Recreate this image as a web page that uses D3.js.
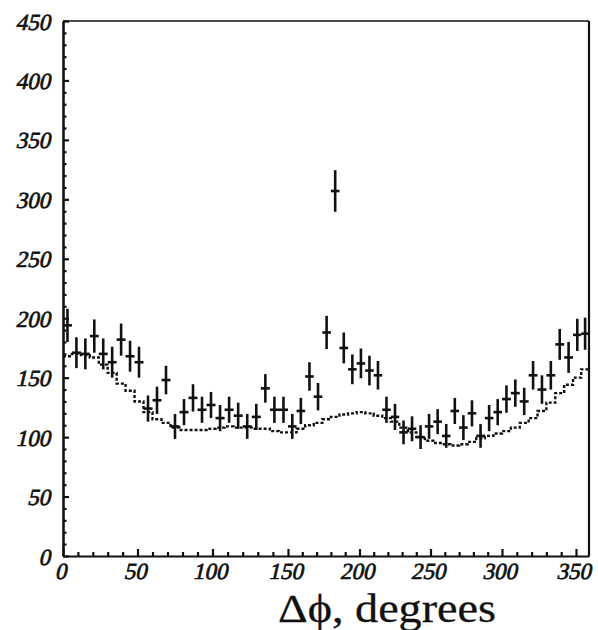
<!DOCTYPE html>
<html>
<head>
<meta charset="utf-8">
<script src="https://cdn.jsdelivr.net/npm/d3@7"></script>
<style>
  body { margin: 0; background: #fff; }
  svg text { font-family: "Liberation Serif", "Times New Roman", serif; fill: #111; }
</style>
</head>
<body>
<div id="chart"></div>
<script>
// bin centres, degrees (6 degree bins)
const phiBins = [3, 9, 15, 21, 27, 33, 39, 45, 51, 57,
  63, 69, 75, 81, 87, 93, 99, 105, 111, 117,
  123, 129, 135, 141, 147, 153, 159, 165, 171, 177,
  183, 189, 195, 201, 207, 213, 219, 225, 231, 237,
  243, 249, 255, 261, 267, 273, 279, 285, 291, 297,
  303, 309, 315, 321, 327, 333, 339, 345, 351, 357];

// measured counts per bin
const counts = [194, 171, 170, 185, 170, 163, 182, 168, 163, 124,
  131, 148, 109, 121, 133, 123, 127, 116, 123, 118,
  109, 117, 141, 123, 123, 109, 122, 151, 134, 188,
  307, 175, 157, 162, 156, 152, 123, 117, 104, 107,
  100, 109, 113, 101, 122, 108, 120, 101, 116, 121,
  132, 137, 130, 152, 140, 152, 178, 167, 186, 187];

// half length of the error bars
const countErr = [14, 13, 13, 14, 13, 13, 13.5, 13, 13, 11,
  11.5, 12, 10.5, 11, 11.5, 11, 11, 11, 11, 11,
  10.5, 11, 12, 11, 11, 10.5, 11, 12, 11.5, 14,
  17.5, 13, 12.5, 12.5, 12.5, 12, 11, 11, 10, 10.5,
  10, 10.5, 10.5, 10, 11, 10.5, 11, 10, 11, 11,
  11.5, 11.5, 11.5, 12, 12, 12, 13, 13, 13.5, 13.5];

// dashed histogram (expected background)
const background = [168, 170, 169, 167, 161, 154, 145, 139, 130, 121,
  115, 112, 108, 106, 106, 106, 107, 108, 109, 108,
  108, 107, 107, 105, 104, 104, 107, 110, 112, 115,
  117, 119, 120, 121, 120, 118, 116, 113, 108, 104,
  100, 97, 95, 94, 93, 94, 96, 99, 101, 103,
  105, 108, 112, 116, 122, 129, 137, 144, 150, 157];

const xTicks = [0, 50, 100, 150, 200, 250, 300, 350];
const xMinor = [10, 20, 30, 40, 60, 70, 80, 90, 110, 120, 130, 140, 160, 170, 180, 190,
  210, 220, 230, 240, 260, 270, 280, 290, 310, 320, 330, 340];
const yTicks = [0, 50, 100, 150, 200, 250, 300, 350, 400, 450];
const yMinor = [10, 20, 30, 40, 60, 70, 80, 90, 110, 120, 130, 140, 160, 170, 180, 190,
  210, 220, 230, 240, 260, 270, 280, 290, 310, 320, 330, 340, 360, 370, 380, 390,
  410, 420, 430, 440];
const xTitle = "\u0394\u03d5, degrees";

let width = 598;
let height = 630;

let svg = d3.select("#chart").append("svg")
  .attr("width", width)
  .attr("height", height);

// the scanned axis is slightly uneven, so the scale follows the printed tick marks
let xScale = d3.scaleLinear()
  .domain([0, 50, 100, 150, 200, 250, 300, 350, 360])
  .range([63, 137.5, 212.5, 288, 359.5, 430.5, 502, 576, 589]);
let yScale = d3.scaleLinear().domain([0, 450]).range([556, 21]);
let halfBin = (phiBins[1] - phiBins[0]) / 2;

// frame: top and right sides
svg.append("line")
  .attr("x1", xScale(0)).attr("x2", xScale(360))
  .attr("y1", yScale(450)).attr("y2", yScale(450))
  .attr("stroke", "#111").attr("stroke-width", 1.6);
svg.append("line")
  .attr("x1", xScale(360)).attr("x2", xScale(360))
  .attr("y1", yScale(450)).attr("y2", yScale(0))
  .attr("stroke", "#111").attr("stroke-width", 2.2);

// x axis
let gx = svg.append("g").attr("transform", `translate(0,${yScale(0)})`);
gx.call(d3.axisBottom(xScale).tickValues(xTicks).tickSizeInner(-7).tickSizeOuter(0));
gx.append("g").call(d3.axisBottom(xScale).tickValues(xMinor).tickSizeInner(-4).tickSizeOuter(0).tickFormat(""))
  .select(".domain").remove();
gx.selectAll("path, line").attr("stroke", "#111").attr("stroke-width", 2.2);
// slanted serif digits (no italic face installed, so skew the upright one)
gx.selectAll(".tick text")
  .attr("y", 0).attr("dy", null)
  .attr("transform", "translate(-3,23) skewX(-13)");

// y axis
let gy = svg.append("g").attr("transform", `translate(${xScale(0)},0)`);
gy.call(d3.axisLeft(yScale).tickValues(yTicks).tickSizeInner(-6).tickSizeOuter(0));
gy.append("g").call(d3.axisLeft(yScale).tickValues(yMinor).tickSizeInner(-3.5).tickSizeOuter(0).tickFormat(""))
  .select(".domain").remove();
gy.selectAll("path, line").attr("stroke", "#111").attr("stroke-width", 2.2);
gy.select(".domain").attr("stroke-width", 2.6);
gy.selectAll(".tick text")
  .attr("x", 0).attr("dy", null)
  .attr("transform", "translate(-13,8) skewX(-13)");

svg.selectAll(".tick text")
  .style("font-family", "'Liberation Serif', serif")
  .style("font-size", "23px")
  .attr("fill", "#111")
  .attr("stroke", "#111")
  .attr("stroke-width", 0.7);

// dashed background histogram
let stepPts = phiBins.map((c, i) => [c - halfBin, background[i]]);
stepPts.push([phiBins[phiBins.length - 1] + halfBin, background[background.length - 1]]);
let stepLine = d3.line()
  .x(d => xScale(d[0]))
  .y(d => yScale(d[1]))
  .curve(d3.curveStepAfter);
svg.append("path")
  .attr("d", stepLine(stepPts))
  .attr("fill", "none")
  .attr("stroke", "#111")
  .attr("stroke-width", 2.4)
  .attr("stroke-dasharray", "3,2");

// data points with error bars
let pts = svg.append("g").attr("stroke", "#111").attr("stroke-width", 2.6);
phiBins.forEach((c, i) => {
  pts.append("line")
    .attr("x1", xScale(c)).attr("x2", xScale(c))
    .attr("y1", yScale(counts[i] - countErr[i]))
    .attr("y2", yScale(counts[i] + countErr[i]));
  pts.append("line")
    .attr("x1", xScale(c - halfBin)).attr("x2", xScale(c + halfBin))
    .attr("y1", yScale(counts[i])).attr("y2", yScale(counts[i]));
});

// axis title
svg.append("text")
  .attr("x", 278)
  .attr("y", 622)
  .attr("textLength", 218)
  .attr("lengthAdjust", "spacingAndGlyphs")
  .attr("stroke", "#111")
  .attr("stroke-width", 0.3)
  .style("font-size", "39px")
  .text(xTitle);
</script>
</body>
</html>
